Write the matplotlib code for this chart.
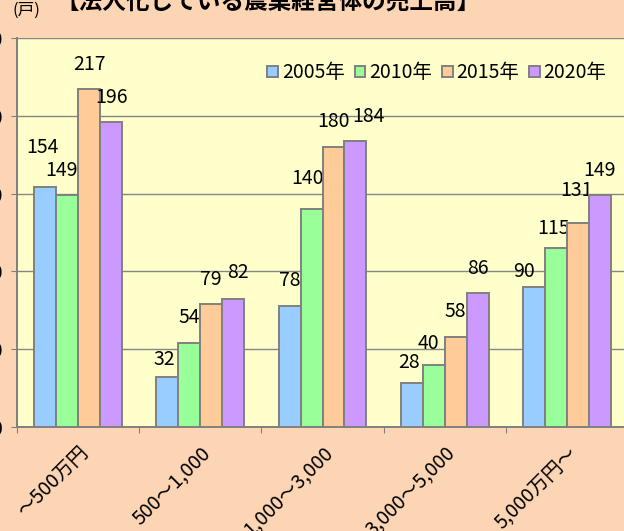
import numpy as np
import matplotlib.pyplot as plt

plt.rcParams['font.family'] = ['Noto Sans CJK JP', 'DejaVu Sans']

categories = ['～500万円', '500～1,000', '1,000～3,000', '3,000～5,000', '5,000万円～']
years = ['2005年', '2010年', '2015年', '2020年']
v2005 = [154, 32, 78, 28, 90]
v2010 = [149, 54, 140, 40, 115]
v2015 = [217, 79, 180, 58, 131]
v2020 = [196, 82, 184, 86, 149]
series = [v2005, v2010, v2015, v2020]
colors = ['#99CCFF', '#99FF99', '#FFCC99', '#CC99FF']
yticks = [0, 50, 100, 150, 200, 250]

# labels were hand-placed in the original, nudge a few (pixels, keyed by (series, group))
nudge = {(0, 0): (-3, 40), (1, 0): (-6, 25), (0, 1): (-3, 18), (3, 1): (5, 27),
         (1, 2): (-4, 31), (3, 2): (13, 24), (0, 3): (-3, 21), (1, 3): (-5, 21),
         (0, 4): (-10, 15), (1, 4): (-2, 20), (2, 4): (-1, 33)}

fig = plt.figure(figsize=(6.24, 5.31), dpi=100)
fig.patch.set_facecolor('#FCD5B4')
ax = fig.add_axes([17/624, 104/531, 611/624, 389/531])
ax.set_facecolor('#FFFFCC')

x = np.arange(len(categories))
w = 0.18
for i, vals in enumerate(series):
    bars = ax.bar(x + (i - 1.5) * w, vals, w, color=colors[i], edgecolor='#808080',
                  linewidth=1.4, label=years[i], zorder=3)
    for j, (b, v) in enumerate(zip(bars, vals)):
        ax.annotate(str(v), (b.get_x() + b.get_width() / 2, v),
                    xytext=nudge.get((i, j), (0, 25)),
                    textcoords='offset pixels', ha='center', va='center', fontsize=14)

ax.set_xlim(-0.5, 4.5)
ax.set_ylim(0, 250)
ax.set_yticks(yticks)
ax.set_yticklabels([str(t) for t in yticks], fontsize=14)
ax.yaxis.grid(True, color='#868686', linewidth=1, zorder=0)
ax.tick_params(axis='y', direction='out', length=4, color='#808080', pad=6)

ax.set_xticks(np.arange(-0.5, 5, 1))
ax.set_xticklabels([])
ax.set_xticks(x, minor=True)
ax.set_xticklabels(categories, minor=True, rotation=45, ha='right', va='top',
                   rotation_mode='anchor', fontsize=14)
ax.tick_params(axis='x', which='major', direction='out', length=4, color='#808080')
ax.tick_params(axis='x', which='minor', length=0, pad=11)

for s in ['top', 'right']:
    ax.spines[s].set_visible(False)
for s in ['left', 'bottom']:
    ax.spines[s].set_color('#808080')
    ax.spines[s].set_linewidth(1.4)

ax.legend(loc='center', bbox_to_anchor=(437/624, 1 - 73/531), bbox_transform=fig.transFigure,
          ncol=4, frameon=False, fontsize=14, handlelength=0.55, handleheight=0.55,
          handletextpad=0.2, columnspacing=0.5)

fig.text(12/624, 1 - 10/531, '(戸)', fontsize=12, ha='left', va='center')
fig.text(268/624, 1 - 2/531, '【法人化している農業経営体の売上高】', fontsize=17,
         fontweight='bold', ha='center', va='center')

fig.savefig('out.png', dpi=100, facecolor=fig.get_facecolor())
